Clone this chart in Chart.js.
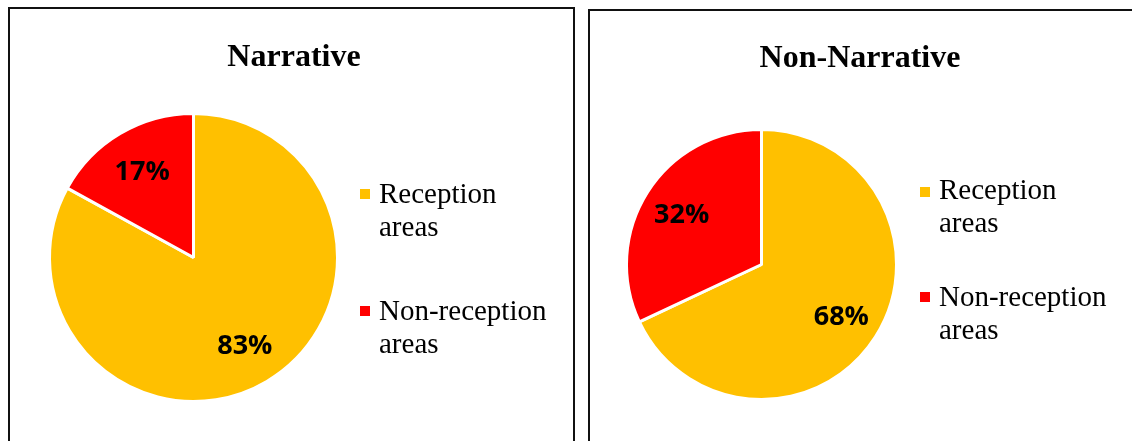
<!DOCTYPE html>
<html>
<head>
<meta charset="utf-8">
<title>Narrative / Non-Narrative</title>
<script src="https://cdn.jsdelivr.net/npm/chart.js@4.4.1/dist/chart.umd.min.js"></script>
<style>
    html, body { margin: 0; padding: 0; background: #fff; }
    body { width: 1132px; height: 441px; overflow: hidden; position: relative; }
    .panel { position: absolute; border: 2px solid #111; border-bottom: none; }
    .panel canvas { position: absolute; left: 0; top: 0; }
    #panelLeft { left: 8px; top: 7px; width: 563px; height: 440px; }
    #panelRight { left: 588px; top: 9px; width: 560px; height: 440px; }
</style>
</head>
<body>
<div class="panel" id="panelLeft"><canvas id="narrativeChart" width="563" height="432"></canvas></div>
<div class="panel" id="panelRight"><canvas id="nonNarrativeChart" width="542" height="430"></canvas></div>
<script>
// data
const categories = ["Reception areas", "Non-reception areas"];
const narrativeValues = [83, 17];
const nonNarrativeValues = [68, 32];
const sliceColors = ["#FFC000", "#FF0000"];

let PieCharts = function () {
    // title, percentages and legend drawn on the canvas
    let panelText = {
        id: 'panelText',
        afterDraw: function (chart, args, opts) {
            let ctx = chart.ctx;
            let ds = chart.data.datasets[0];
            let total = ds.data.reduce((a, b) => a + b, 0);
            ctx.save();
            ctx.fillStyle = '#000';
            ctx.textAlign = 'center';
            ctx.textBaseline = 'alphabetic';
            ctx.font = 'bold 32px "Liberation Serif"';
            ctx.fillText(opts.title, opts.titleX, opts.titleY);

            // percentages, glyphs centred on the point
            ctx.font = 'bold 27px "Open Sans"';
            chart.getDatasetMeta(0).data.forEach((arc, i) => {
                let p = arc.getProps(['x', 'y', 'startAngle', 'endAngle', 'outerRadius'], true);
                let mid = (p.startAngle + p.endAngle) / 2;
                let r = p.outerRadius * opts.labelRadius;
                let txt = Math.round(ds.data[i] / total * 100) + '%';
                let m = ctx.measureText(txt);
                let dy = (m.actualBoundingBoxAscent - m.actualBoundingBoxDescent) / 2;
                ctx.fillText(txt, p.x + Math.cos(mid) * r, p.y + Math.sin(mid) * r + dy);
            });

            ctx.textAlign = 'left';
            ctx.font = '29px "Liberation Serif"';
            chart.data.labels.forEach((label, i) => {
                let item = opts.legend[i];
                ctx.fillStyle = ds.backgroundColor[i];
                ctx.fillRect(opts.legendX, item.boxY, 10, 10);
                ctx.fillStyle = '#000';
                let cut = label.lastIndexOf(' ');
                [label.slice(0, cut), label.slice(cut + 1)].forEach((line, j) => {
                    ctx.fillText(line, opts.legendX + 19, item.baseline + j * 33);
                });
            });
            ctx.restore();
        }
    };

    let _makePie = function (id, values, padding, text) {
        let ctx = document.getElementById(id).getContext('2d');
        new Chart(ctx, {
            type: 'pie',
            data: {
                labels: categories,
                datasets: [{
                    data: values,
                    backgroundColor: sliceColors,
                    borderColor: '#fff',
                    borderWidth: 3
                }]
            },
            options: {
                responsive: false,
                animation: false,
                layout: { padding: padding },
                plugins: {
                    legend: { display: false },
                    tooltip: { enabled: false },
                    panelText: text
                }
            },
            plugins: [panelText]
        });
    };

    return {
        init: () => {
            _makePie('narrativeChart', narrativeValues,
                { left: 38, top: 103, right: 234, bottom: 38 },
                {
                    title: 'Narrative', titleX: 284, titleY: 57, labelRadius: 0.7,
                    legendX: 350,
                    legend: [{ boxY: 180, baseline: 194 }, { boxY: 297, baseline: 311 }]
                });
            _makePie('nonNarrativeChart', nonNarrativeValues,
                { left: 35, top: 117, right: 234, bottom: 40 },
                {
                    title: 'Non-Narrative', titleX: 270, titleY: 56, labelRadius: 0.7,
                    legendX: 330,
                    legend: [{ boxY: 176, baseline: 188 }, { boxY: 281, baseline: 295 }]
                });
        }
    }
}();
document.addEventListener('DOMContentLoaded', function () {
    PieCharts.init();
})
</script>
</body>
</html>
